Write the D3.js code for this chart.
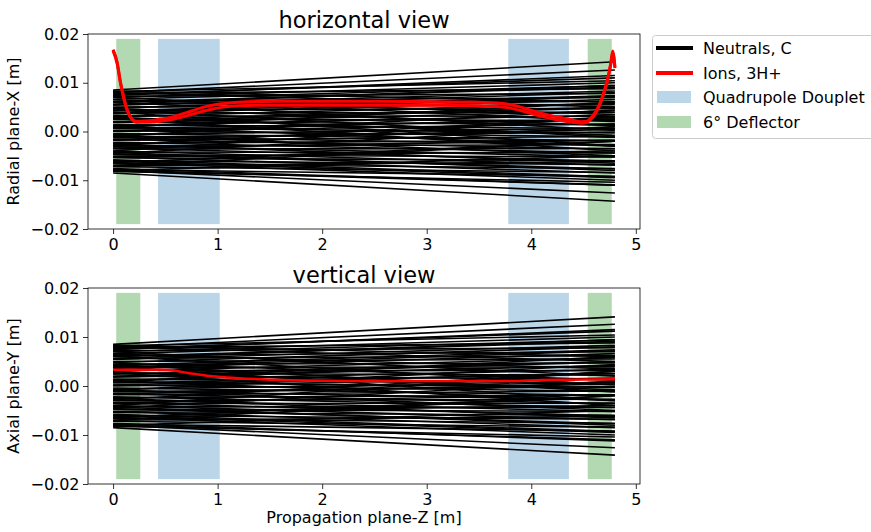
<!DOCTYPE html>
<html>
<head>
<meta charset="utf-8">
<script src="https://cdn.jsdelivr.net/npm/d3@7"></script>
<style>
  html, body { margin: 0; padding: 0; background: #fff; }
  svg { display: block; font-family: "DejaVu Sans", sans-serif; }
</style>
</head>
<body>
<svg id="chart" width="871" height="532"></svg>
<script>
// ---------------- DATA ----------------
const xTicks = [0, 1, 2, 3, 4, 5];
const yTicks = [-0.02, -0.01, 0.00, 0.01, 0.02];

// Neutral trajectories (straight lines): position at z = 0 and at z = 4.8 m
const neutralZ = [0, 4.8];
const neutralStartX = [0.0085, 0.0080, 0.0076, 0.0082, 0.0070, 0.0066, 0.0078, 0.0060, 0.0054, 0.0072,
  0.0048, 0.0062, 0.0042, 0.0056, 0.0036, 0.0050, 0.0030, 0.0044, 0.0024, 0.0038,
  0.0018, 0.0032, 0.0012, 0.0026, 0.0006, 0.0020, 0.0000, 0.0014, -0.0006, 0.0008,
  -0.0012, 0.0002, -0.0018, -0.0004, -0.0024, -0.0010, -0.0030, -0.0016, -0.0036, -0.0022,
  -0.0042, -0.0028, -0.0048, -0.0034, -0.0054, -0.0040, -0.0060, -0.0046, -0.0066, -0.0052,
  -0.0072, -0.0058, -0.0078, -0.0064, -0.0082, -0.0076, -0.0080, -0.0085,
  0.0070, -0.0070, 0.0040, -0.0040, 0.0080, -0.0080,
  0.0083, 0.0065, 0.0047, 0.0029, 0.0011, -0.0007, -0.0025, -0.0043, -0.0061, -0.0079,
  0.0074, 0.0056, 0.0038, 0.0020, 0.0002, -0.0016, -0.0034, -0.0052, -0.0070,
  0.0061, 0.0027, -0.0009, -0.0045, 0.0044, 0.0008, -0.0028, -0.0064];
const neutralEndX = [0.0143, 0.0126, 0.0110, 0.0104, 0.0100, 0.0094, 0.0088, 0.0091, 0.0083, 0.0078,
  0.0080, 0.0070, 0.0074, 0.0062, 0.0066, 0.0055, 0.0058, 0.0047, 0.0050, 0.0039,
  0.0042, 0.0031, 0.0034, 0.0022, 0.0025, 0.0014, 0.0016, 0.0006, 0.0007, -0.0003,
  -0.0001, -0.0011, -0.0010, -0.0019, -0.0018, -0.0028, -0.0027, -0.0036, -0.0035, -0.0044,
  -0.0044, -0.0052, -0.0052, -0.0061, -0.0060, -0.0069, -0.0068, -0.0077, -0.0076, -0.0085,
  -0.0084, -0.0093, -0.0092, -0.0100, -0.0104, -0.0110, -0.0126, -0.0143,
  0.0020, -0.0020, -0.0030, 0.0030, 0.0050, -0.0050,
  0.0060, 0.0035, 0.0012, -0.0008, -0.0030, -0.0050, -0.0065, -0.0080, -0.0095, -0.0110,
  0.0115, 0.0095, 0.0072, 0.0049, 0.0026, 0.0004, -0.0018, -0.0040, -0.0062,
  0.0002, -0.0040, 0.0044, 0.0010, -0.0012, 0.0060, 0.0030, -0.0020];
// Vertical plane neutrals (nearly the same distribution)
const neutralStartY = [0.0085, 0.0079, 0.0076, 0.0082, 0.0070, 0.0066, 0.0078, 0.0060, 0.0054, 0.0072,
  0.0048, 0.0062, 0.0042, 0.0056, 0.0036, 0.0050, 0.0030, 0.0044, 0.0024, 0.0038,
  0.0018, 0.0032, 0.0012, 0.0026, 0.0006, 0.0020, 0.0000, 0.0014, -0.0006, 0.0008,
  -0.0012, 0.0002, -0.0018, -0.0004, -0.0024, -0.0010, -0.0030, -0.0016, -0.0036, -0.0022,
  -0.0042, -0.0028, -0.0048, -0.0034, -0.0054, -0.0040, -0.0060, -0.0046, -0.0066, -0.0052,
  -0.0072, -0.0058, -0.0078, -0.0064, -0.0082, -0.0076, -0.0080, -0.0085,
  0.0070, -0.0070, 0.0040, -0.0040, 0.0080, -0.0080,
  0.0083, 0.0065, 0.0047, 0.0029, 0.0011, -0.0007, -0.0025, -0.0043, -0.0061, -0.0079,
  0.0074, 0.0056, 0.0038, 0.0020, 0.0002, -0.0016, -0.0034, -0.0052, -0.0070,
  0.0061, 0.0027, -0.0009, -0.0045, 0.0044, 0.0008, -0.0028, -0.0064];
const neutralEndY = [0.0141, 0.0126, 0.0112, 0.0104, 0.0100, 0.0094, 0.0088, 0.0091, 0.0083, 0.0078,
  0.0080, 0.0070, 0.0074, 0.0062, 0.0066, 0.0055, 0.0058, 0.0047, 0.0050, 0.0039,
  0.0042, 0.0031, 0.0034, 0.0022, 0.0025, 0.0014, 0.0016, 0.0006, 0.0007, -0.0003,
  -0.0001, -0.0011, -0.0010, -0.0019, -0.0018, -0.0028, -0.0027, -0.0036, -0.0035, -0.0044,
  -0.0044, -0.0052, -0.0052, -0.0061, -0.0060, -0.0069, -0.0068, -0.0077, -0.0076, -0.0085,
  -0.0084, -0.0093, -0.0092, -0.0100, -0.0104, -0.0112, -0.0126, -0.0141,
  0.0020, -0.0020, -0.0030, 0.0030, 0.0050, -0.0050,
  0.0060, 0.0035, 0.0012, -0.0008, -0.0030, -0.0050, -0.0065, -0.0080, -0.0095, -0.0110,
  0.0115, 0.0095, 0.0072, 0.0049, 0.0026, 0.0004, -0.0018, -0.0040, -0.0062,
  0.0002, -0.0040, 0.0044, 0.0010, -0.0012, 0.0060, 0.0030, -0.0020];

// Ions (3H+) horizontal plane: two bounding trajectories of the bundle
const ionZh = [0, 0.04, 0.07, 0.1, 0.13, 0.16, 0.19, 0.22, 0.27, 0.35, 0.45, 0.55, 0.65, 0.75, 0.85, 0.95,
  1.05, 1.2, 1.5, 2.0, 2.5, 3.0, 3.5, 3.7, 3.8, 3.9, 4.0, 4.1, 4.2, 4.3, 4.4, 4.48, 4.53, 4.58,
  4.62, 4.66, 4.7, 4.73, 4.76, 4.78, 4.795, 4.8];
const ionXa = [0.0168, 0.0141, 0.0102, 0.0072, 0.0048, 0.0033, 0.0024, 0.0021, 0.0021, 0.0022, 0.0025, 0.0029, 0.0035, 0.0042, 0.0049, 0.0054,
  0.0057, 0.0060, 0.0062, 0.0062, 0.0062, 0.0061, 0.0060, 0.0058, 0.0055, 0.0050, 0.0043, 0.0037, 0.0032, 0.0028, 0.0023, 0.0020, 0.0021, 0.0030,
  0.0042, 0.0060, 0.0085, 0.0108, 0.0140, 0.0165, 0.0145, 0.0132];
const ionXb = [0.0166, 0.0138, 0.0100, 0.0070, 0.0046, 0.0031, 0.0022, 0.0019, 0.0019, 0.0019, 0.0021, 0.0024, 0.0029, 0.0035, 0.0041, 0.0046,
  0.0050, 0.0053, 0.0054, 0.0054, 0.0054, 0.0054, 0.0053, 0.0051, 0.0048, 0.0043, 0.0037, 0.0031, 0.0026, 0.0022, 0.0019, 0.0017, 0.0019, 0.0027,
  0.0039, 0.0057, 0.0082, 0.0105, 0.0137, 0.0162, 0.0142, 0.0130];

// Ions vertical plane
const ionZv = [0, 0.3, 0.5, 0.6, 0.7, 0.8, 0.9, 1.0, 1.2, 1.5, 1.8, 2.2, 2.8, 3.4, 3.8, 4.1, 4.4, 4.8];
const ionYv = [0.0033, 0.0033, 0.0033, 0.0031, 0.0027, 0.0024, 0.0021, 0.0019, 0.0016, 0.0013, 0.0011, 0.0010, 0.0010, 0.0010, 0.0010, 0.0012, 0.0013, 0.0014];

// Beamline elements: [zStart, zEnd]
const quadRegions = [[0.43, 1.02], [3.78, 4.36]];
const deflRegions = [[0.03, 0.26], [4.54, 4.77]];
const elementHalfHeight = 0.019;

const legendLabels = ["Neutrals, C", "Ions, 3H+", "Quadrupole Douplet", "6° Deflector"];
const panelTitles = ["horizontal view", "vertical view"];
const yLabels = ["Radial plane-X [m]", "Axial plane-Y [m]"];
const xLabel = "Propagation plane-Z [m]";

// ---------------- DRAW ----------------
const svg = d3.select("#chart");
const blueFill = "rgb(188,214,233)";
const greenFill = "rgb(179,217,179)";

const x = d3.scaleLinear().domain([-0.24, 5.04]).range([88, 640]);
const panels = [
  { top: 34, bottom: 229, starts: neutralStartX, ends: neutralEndX, title: panelTitles[0], ylab: yLabels[0], titleY: 28 },
  { top: 288, bottom: 484, starts: neutralStartY, ends: neutralEndY, title: panelTitles[1], ylab: yLabels[1], titleY: 283 }
];
const fmt = d => (d < 0 ? "\u2212" : "") + Math.abs(d).toFixed(2);

panels.forEach((p, pi) => {
  const y = d3.scaleLinear().domain([-0.02, 0.02]).range([p.bottom, p.top]);
  const g = svg.append("g");

  // shaded regions
  quadRegions.forEach(r => g.append("rect")
    .attr("x", x(r[0])).attr("width", x(r[1]) - x(r[0]))
    .attr("y", y(elementHalfHeight)).attr("height", y(-elementHalfHeight) - y(elementHalfHeight))
    .attr("fill", blueFill));
  deflRegions.forEach(r => g.append("rect")
    .attr("x", x(r[0])).attr("width", x(r[1]) - x(r[0]))
    .attr("y", y(elementHalfHeight)).attr("height", y(-elementHalfHeight) - y(elementHalfHeight))
    .attr("fill", greenFill));

  // neutrals
  const line = d3.line().x(d => x(d[0])).y(d => y(d[1]));
  p.starts.forEach((s, i) => {
    g.append("path")
      .attr("d", line([[neutralZ[0], s], [neutralZ[1], p.ends[i]]]))
      .attr("fill", "none").attr("stroke", "#000").attr("stroke-width", 1.6);
  });

  // ions
  const cl = d3.line().x(d => x(d[0])).y(d => y(d[1])).curve(d3.curveMonotoneX);
  if (pi === 0) {
    [ionXa, ionXb].forEach(arr => {
      g.append("path")
        .attr("d", cl(ionZh.map((z, i) => [z, arr[i]])))
        .attr("fill", "none").attr("stroke", "#ff0000").attr("stroke-width", 3)
        .attr("stroke-linejoin", "round");
    });
  } else {
    g.append("path")
      .attr("d", cl(ionZv.map((z, i) => [z, ionYv[i]])))
      .attr("fill", "none").attr("stroke", "#ff0000").attr("stroke-width", 2.5);
  }

  // axes
  const ax = svg.append("g").attr("transform", `translate(0,${p.bottom})`)
    .call(d3.axisBottom(x).tickValues(xTicks).tickFormat(d3.format("d")).tickSize(5).tickPadding(4.5));
  const ay = svg.append("g").attr("transform", `translate(88,0)`)
    .call(d3.axisLeft(y).tickValues(yTicks).tickFormat(fmt).tickSize(5).tickPadding(3.5));
  [ax, ay].forEach(a => {
    a.select(".domain").remove();
    a.selectAll("text").attr("font-size", 16).attr("fill", "#000").attr("font-family", "DejaVu Sans");
    a.selectAll("line").attr("stroke", "#000").attr("stroke-width", 0.8);
  });

  // frame
  svg.append("rect").attr("x", 88).attr("y", p.top).attr("width", 640 - 88).attr("height", p.bottom - p.top)
    .attr("fill", "none").attr("stroke", "#000").attr("stroke-width", 0.8);

  // title
  svg.append("text").attr("x", 364).attr("y", p.titleY).attr("text-anchor", "middle")
    .attr("font-size", 22.5).attr("fill", "#000").text(p.title);

  // y label
  svg.append("text").attr("transform", `translate(19,${(p.top + p.bottom) / 2}) rotate(-90)`)
    .attr("text-anchor", "middle").attr("font-size", 16).attr("fill", "#000").text(p.ylab);
});

// x label
svg.append("text").attr("x", 364).attr("y", 523).attr("text-anchor", "middle")
  .attr("font-size", 16).attr("fill", "#000").text(xLabel);

// legend
const lg = svg.append("g");
lg.append("rect").attr("x", 652.5).attr("y", 35.5).attr("width", 240).attr("height", 103).attr("rx", 3)
  .attr("fill", "#fff").attr("fill-opacity", 0.8).attr("stroke", "#cccccc").attr("stroke-width", 1);
const rowY = [48, 73, 97, 122];
lg.append("line").attr("x1", 656).attr("x2", 693).attr("y1", rowY[0]).attr("y2", rowY[0]).attr("stroke", "#000").attr("stroke-width", 4);
lg.append("line").attr("x1", 656).attr("x2", 693).attr("y1", rowY[1]).attr("y2", rowY[1]).attr("stroke", "#ff0000").attr("stroke-width", 4);
lg.append("rect").attr("x", 657).attr("y", rowY[2] - 6).attr("width", 34).attr("height", 12).attr("fill", blueFill);
lg.append("rect").attr("x", 657).attr("y", rowY[3] - 6).attr("width", 34).attr("height", 12).attr("fill", greenFill);
legendLabels.forEach((t, i) => lg.append("text").attr("x", 703).attr("y", rowY[i]).attr("dy", "0.36em")
  .attr("font-size", 16).attr("fill", "#000").text(t));
</script>
</body>
</html>
